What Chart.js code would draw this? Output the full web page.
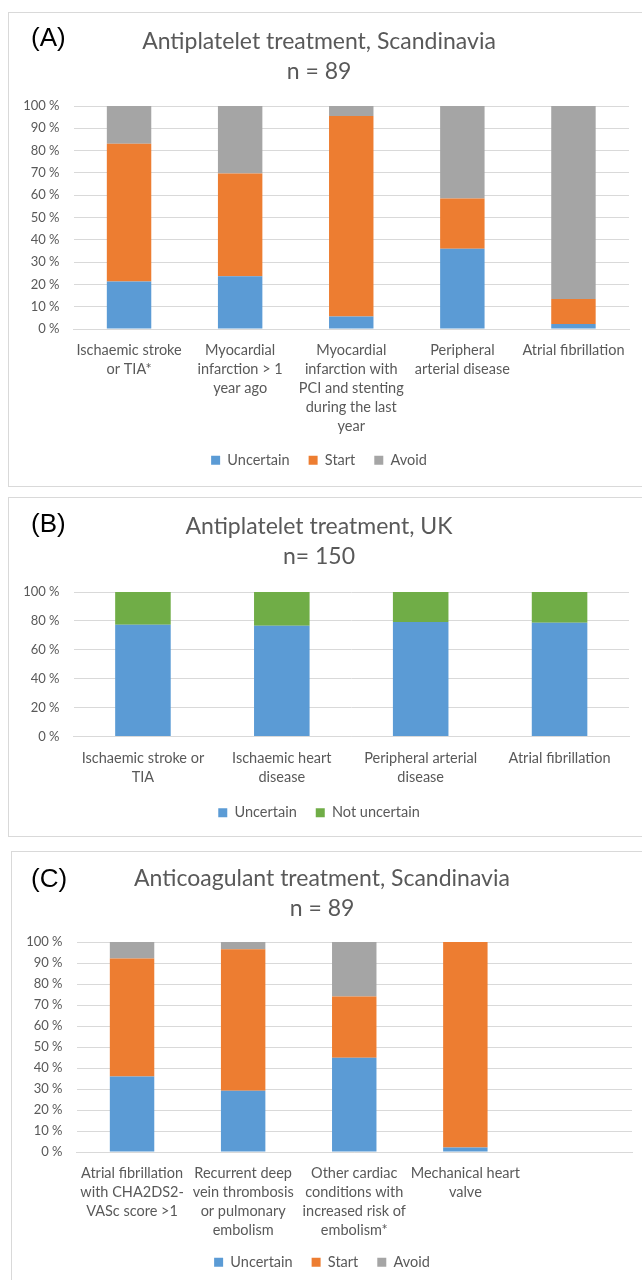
<!DOCTYPE html>
<html>
<head>
<meta charset="utf-8">
<script src="https://cdn.jsdelivr.net/npm/chart.js@4"></script>
<style>
  body { margin: 0; background: #fff; width: 642px; height: 1280px; overflow: hidden; position: relative; }
  .panel { position: absolute; left: 8px; border: 1px solid #d9d9d9; background: #fff; }
  .tag { position: absolute; left: 31px; font-family: "Liberation Sans", Arial, sans-serif; font-size: 26px; line-height: 30px; color: #000; }
</style>
</head>
<body>
<div class="panel" id="pA" style="top:12px; width:640px; height:473px;"><canvas id="chartA" width="640" height="473"></canvas></div>
<div class="panel" id="pB" style="top:497px; width:640px; height:338px;"><canvas id="chartB" width="640" height="338"></canvas></div>
<div class="panel" id="pC" style="top:851px; left:11px; width:640px; height:436px;"><canvas id="chartC" width="640" height="436"></canvas></div>
<div class="tag" style="top:22px;">(A)</div>
<div class="tag" style="top:508px;">(B)</div>
<div class="tag" style="top:863px;">(C)</div>
<script>
// Panel A - antiplatelet, Scandinavia (n = 89)
const catsA = [['Ischaemic stroke', 'or TIA*'], ['Myocardial', 'infarction > 1', 'year ago'], ['Myocardial', 'infarction with', 'PCI and stenting', 'during the last', 'year'], ['Peripheral', 'arterial disease'], ['Atrial fibrillation']];
const uncertainA = [21.3, 23.6, 5.6, 36.0, 2.2];
const startA = [61.8, 46.1, 89.9, 22.5, 11.2];
const avoidA = [16.9, 30.3, 4.5, 41.5, 86.6];

// Panel B - antiplatelet, UK (n = 150)
const catsB = [['Ischaemic stroke or', 'TIA'], ['Ischaemic heart', 'disease'], ['Peripheral arterial', 'disease'], ['Atrial fibrillation']];
const uncertainB = [77.3, 76.7, 79.3, 78.7];
const notUncertainB = [22.7, 23.3, 20.7, 21.3];

// Panel C - anticoagulant, Scandinavia (n = 89)
const catsC = [['Atrial fibrillation', 'with CHA2DS2-', 'VASc score >1'], ['Recurrent deep', 'vein thrombosis', 'or pulmonary', 'embolism'], ['Other cardiac', 'conditions with', 'increased risk of', 'embolism*'], ['Mechanical heart', 'valve'], ''];
const uncertainC = [36.0, 29.2, 44.9, 2.2, null];
const startC = [56.2, 67.4, 29.2, 97.8, null];
const avoidC = [7.8, 3.4, 25.9, 0, null];

const BLUE = '#5b9bd5', ORANGE = '#ed7d31', GREY = '#a5a5a5', GREEN = '#70ad47';
const TXT = '#595959', GRID = '#d9d9d9';
const FONT = 'Lato, "Open Sans", sans-serif';

// pulls the legend up closer to the axis labels (Excel style spacing)
const legendNudge = {
    id: 'legendNudge',
    beforeInit(chart, args, opts) {
        const legend = chart.legend;
        const fit = legend.fit;
        legend.fit = function() {
            fit.call(this);
            this.height -= opts.shrink;
        };
    },
    afterLayout(chart, args, opts) {
        chart.legend.top -= opts.lift;
        chart.legend.bottom -= opts.lift;
    }
};

function ds(label, data, color) {
    return { label: label, data: data, backgroundColor: color, borderWidth: 0,
             barPercentage: 0.4, categoryPercentage: 1 };
}

function makeChart(id, labels, datasets, titleLines, step, titlePad, nudge) {
    return new Chart(document.getElementById(id), {
        type: 'bar',
        data: { labels: labels, datasets: datasets },
        plugins: [legendNudge],
        options: {
            responsive: false,
            animation: false,
            layout: { padding: { left: 0, right: 20, top: 0, bottom: 6 } },
            plugins: {
                legendNudge: nudge,
                title: {
                    display: true,
                    text: titleLines,
                    color: TXT,
                    font: { family: FONT, size: 23, weight: 'normal', lineHeight: '29.5px' },
                    padding: titlePad
                },
                legend: {
                    position: 'bottom',
                    labels: {
                        color: TXT,
                        font: { family: FONT, size: 14.5 },
                        boxWidth: 9,
                        boxHeight: 9,
                        padding: 19
                    }
                },
                tooltip: { enabled: false }
            },
            scales: {
                x: {
                    stacked: true,
                    grid: { display: false },
                    border: { color: GRID },
                    ticks: {
                        color: TXT,
                        font: { family: FONT, size: 14.5, lineHeight: '19px' },
                        maxRotation: 0,
                        autoSkip: false,
                        padding: 4
                    }
                },
                y: {
                    stacked: true,
                    min: 0,
                    max: 100,
                    border: { display: false },
                    grid: { color: GRID, drawTicks: false },
                    ticks: {
                        stepSize: step,
                        color: TXT,
                        font: { family: FONT, size: 13 },
                        padding: 14,
                        callback: function(value) {
                            return value + ' %';
                        }
                    },
                    afterFit: function(scale) { scale.width = 64.5; }
                }
            }
        }
    });
}

makeChart('chartA', catsA,
    [ds('Uncertain', uncertainA, BLUE), ds('Start', startA, ORANGE), ds('Avoid', avoidA, GREY)],
    ['Antiplatelet treatment, Scandinavia', 'n = 89'], 10, { top: 14, bottom: 20 }, { shrink: 3.5, lift: 6 });

makeChart('chartB', catsB,
    [ds('Uncertain', uncertainB, BLUE), ds('Not uncertain', notUncertainB, GREEN)],
    ['Antiplatelet treatment, UK', 'n= 150'], 20, { top: 14, bottom: 21 }, { shrink: 4, lift: 4 });

makeChart('chartC', catsC,
    [ds('Uncertain', uncertainC, BLUE), ds('Start', startC, ORANGE), ds('Avoid', avoidC, GREY)],
    ['Anticoagulant treatment, Scandinavia', 'n = 89'], 10, { top: 12, bottom: 19 }, { shrink: 5.5, lift: 8 });
</script>
</body>
</html>
